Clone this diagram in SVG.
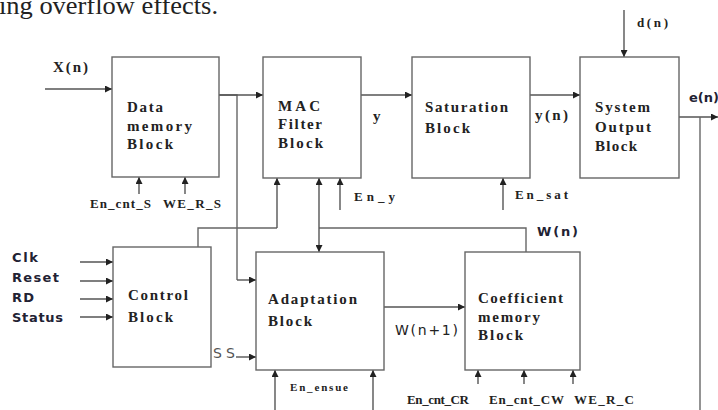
<svg xmlns="http://www.w3.org/2000/svg" width="718" height="410" viewBox="0 0 718 410">
<defs>
<marker id="ah" viewBox="0 0 8 8" refX="8" refY="4" markerWidth="7" markerHeight="7" markerUnits="userSpaceOnUse" orient="auto">
<path d="M0,0 L8,4 L0,8 z" fill="#222"/>
</marker>
</defs>
<style>
.box{fill:#fff;stroke:#666;stroke-width:1.4}
.ln{fill:none;stroke:#666;stroke-width:1.4}
.ar{fill:none;stroke:#555;stroke-width:1.4;marker-end:url(#ah)}
.t{font-family:"Liberation Serif",serif;font-weight:bold;font-size:15px;fill:#222}
.s{font-family:"Liberation Serif",serif;font-weight:bold;font-size:13px;fill:#222}
.sa{font-family:"DejaVu Sans",sans-serif;font-weight:bold;font-size:13px;fill:#223}
</style>
<rect width="718" height="410" fill="#fff"/>
<text x="-1" y="14" font-family="Liberation Serif,serif" font-size="26" fill="#222" textLength="219" lengthAdjust="spacingAndGlyphs">ing overflow effects.</text>

<g id="connectors">
<path class="ar" d="M45,89 H112"/>
<path class="ln" d="M219,95 H237 V280"/>
<path class="ar" d="M219,95 H263"/>
<path class="ar" d="M237,280 H256"/>
<path class="ar" d="M139,194 V177"/>
<path class="ar" d="M185,194 V177"/>
<path class="ar" d="M361,95 H412"/>
<path class="ar" d="M340,210 V178"/>
<path class="ln" d="M198,247 V228 H277"/>
<path class="ar" d="M277,228 V178"/>
<path class="ln" d="M526,252 V228 H319"/>
<path class="ar" d="M319,228 V178"/>
<path class="ar" d="M319,228 V252"/>
<path class="ar" d="M530,95 H580"/>
<path class="ar" d="M503,210 V178"/>
<path class="ar" d="M624,10 V57"/>
<path class="ar" d="M679,117 H718"/>
<path class="ln" d="M700,117 V410"/>
<path class="ar" d="M80,262 H113"/>
<path class="ar" d="M80,281 H113"/>
<path class="ar" d="M80,299 H113"/>
<path class="ar" d="M80,317 H113"/>
<path class="ar" d="M236,357 H256"/>
<path class="ar" d="M384,307 H465"/>
<path class="ar" d="M275,410 V370"/>
<path class="ar" d="M373,410 V370"/>
<path class="ar" d="M478,384 V370"/>
<path class="ar" d="M524,384 V370"/>
<path class="ar" d="M573,384 V370"/>
</g>

<g id="data-memory">
<rect class="box" x="112" y="57" width="107" height="120"/>
<text class="t" x="127" y="112" textLength="36" lengthAdjust="spacing">Data</text>
<text class="t" x="127" y="131" textLength="65" lengthAdjust="spacing">memory</text>
<text class="t" x="127" y="149" textLength="46" lengthAdjust="spacing">Block</text>
</g>
<g id="mac-filter">
<rect class="box" x="263" y="57" width="98" height="121"/>
<text class="t" x="278" y="111" textLength="42" lengthAdjust="spacing">MAC</text>
<text class="t" x="278" y="129" textLength="44" lengthAdjust="spacing">Filter</text>
<text class="t" x="278" y="148" textLength="45" lengthAdjust="spacing">Block</text>
</g>
<g id="saturation">
<rect class="box" x="412" y="57" width="118" height="121"/>
<text class="t" x="425" y="112" textLength="83" lengthAdjust="spacing">Saturation</text>
<text class="t" x="425" y="133" textLength="45" lengthAdjust="spacing">Block</text>
</g>
<g id="system-output">
<rect class="box" x="580" y="57" width="99" height="121"/>
<text class="t" x="595" y="112" textLength="55" lengthAdjust="spacing">System</text>
<text class="t" x="595" y="132" textLength="56" lengthAdjust="spacing">Output</text>
<text class="t" x="595" y="151" textLength="42" lengthAdjust="spacing">Block</text>
</g>
<g id="control">
<rect class="box" x="113" y="247" width="98" height="120"/>
<text class="t" x="128" y="300" textLength="60" lengthAdjust="spacing">Control</text>
<text class="t" x="128" y="322" textLength="45" lengthAdjust="spacing">Block</text>
</g>
<g id="adaptation">
<rect class="box" x="256" y="252" width="128" height="118"/>
<text class="t" x="268" y="304" textLength="89" lengthAdjust="spacing">Adaptation</text>
<text class="t" x="268" y="326" textLength="44" lengthAdjust="spacing">Block</text>
</g>
<g id="coefficient-memory">
<rect class="box" x="465" y="252" width="115" height="118"/>
<text class="t" x="478" y="303" textLength="85" lengthAdjust="spacing">Coefficient</text>
<text class="t" x="478" y="322" textLength="62" lengthAdjust="spacing">memory</text>
<text class="t" x="478" y="340" textLength="45" lengthAdjust="spacing">Block</text>
</g>

<g id="labels">
<text class="t" x="53" y="72" textLength="35" lengthAdjust="spacing">X(n)</text>
<text class="s" x="90" y="208" textLength="61" lengthAdjust="spacing">En_cnt_S</text>
<text class="s" x="163" y="208" textLength="58" lengthAdjust="spacing">WE_R_S</text>
<text class="t" x="373" y="121">y</text>
<text class="s" x="354" y="201" textLength="41" lengthAdjust="spacing">En_y</text>
<text class="t" x="535" y="120" textLength="33" lengthAdjust="spacing">y(n)</text>
<text class="s" x="637" y="27" textLength="31" lengthAdjust="spacing">d(n)</text>
<text class="s" x="515" y="199" textLength="53" lengthAdjust="spacing">En_sat</text>
<text class="sa" x="689" y="102" font-size="12">e(n)</text>
<text class="sa" x="12" y="262" textLength="26" lengthAdjust="spacing">Clk</text>
<text class="sa" x="12" y="282" textLength="47" lengthAdjust="spacing">Reset</text>
<text class="sa" x="12" y="302" textLength="22" lengthAdjust="spacing">RD</text>
<text class="sa" x="12" y="322" textLength="51" lengthAdjust="spacing">Status</text>
<text x="213" y="358" font-family="DejaVu Sans,sans-serif" font-size="14" fill="#555" textLength="22" lengthAdjust="spacing">SS</text>
<text x="395" y="335" font-family="DejaVu Sans,sans-serif" font-size="14" fill="#222" textLength="63" lengthAdjust="spacing">W(n+1)</text>
<text class="sa" x="537" y="236" textLength="41" lengthAdjust="spacing">W(n)</text>
<text x="290" y="391" font-family="Liberation Serif,serif" font-weight="bold" font-size="11" fill="#222" textLength="58" lengthAdjust="spacing">En_ensue</text>
<text class="s" x="407" y="404" textLength="62" lengthAdjust="spacing">En_cnt_CR</text>
<text class="s" x="489" y="404" textLength="75" lengthAdjust="spacing">En_cnt_CW</text>
<text class="s" x="574" y="404" textLength="60" lengthAdjust="spacing">WE_R_C</text>
</g>
</svg>
